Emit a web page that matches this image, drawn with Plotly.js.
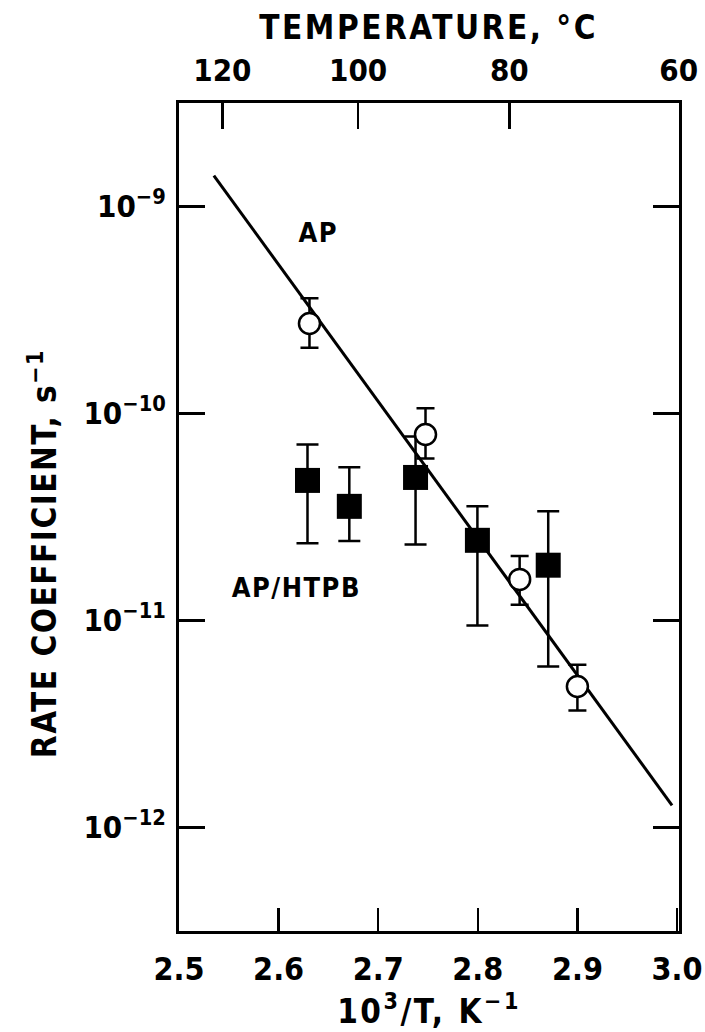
<!DOCTYPE html>
<html>
<head>
<meta charset="utf-8">
<script src="https://cdn.plot.ly/plotly-3.0.1.min.js"></script>
<style>
  html, body { margin: 0; padding: 0; background: #fff; }
  #chart { width: 705px; height: 1032px; }
  #chart .xtitle, #chart .gtitle { letter-spacing: 2.5px; }
  #chart .annotation-text { letter-spacing: 1.5px; }
</style>
</head>
<body>
<div id="chart"></div>
<script>
// ---- Data ----
// AP (open circles)
const apX     = [2.631, 2.7475, 2.842, 2.900];
const apY     = [2.72e-10, 7.92e-11, 1.58e-11, 4.80e-12];
const apHigh  = [3.60e-10, 1.06e-10, 2.05e-11, 6.12e-12];
const apLow   = [2.08e-10, 6.07e-11, 1.19e-11, 3.67e-12];

// AP/HTPB (filled squares)
const htX     = [2.629, 2.671, 2.7375, 2.7996, 2.8707];
const htY     = [4.75e-11, 3.56e-11, 4.91e-11, 2.44e-11, 1.85e-11];
const htHigh  = [7.08e-11, 5.50e-11, 7.74e-11, 3.56e-11, 3.37e-11];
const htLow   = [2.36e-11, 2.42e-11, 2.33e-11, 9.46e-12, 6.00e-12];

// Fitted line for AP (end points)
const fitX    = [2.535, 2.995];
const fitY    = [1.41e-9, 1.28e-12];

// Tick labels
const xTickVals   = [2.5, 2.6, 2.7, 2.8, 2.9, 3.0];
const xTickText   = ['2.5', '2.6', '2.7', '2.8', '2.9', '3.0'];
const yTickVals   = [1e-12, 1e-11, 1e-10, 1e-9];
const yTickText   = ['10<sup>−12</sup>', '10<sup>−11</sup>', '10<sup>−10</sup>', '10<sup>−9</sup>'];
const tempC       = [120, 100, 80, 60];
const tempText    = ['120', '100', '80', '60'];

// ---- Derived library inputs ----
const tempPos = tempC.map(t => 1000 / (t + 273.15));
const errPlus  = (y, hi) => y.map((v, i) => hi[i] - v);
const errMinus = (y, lo) => y.map((v, i) => v - lo[i]);

const FONT = 'DejaVu Sans Condensed, DejaVu Sans, sans-serif';
const XR = [2.5, 3.002];

const traces = [
  {
    x: fitX, y: fitY, type: 'scatter', mode: 'lines',
    line: { color: '#000', width: 3 }, hoverinfo: 'skip', showlegend: false
  },
  {
    x: htX, y: htY, type: 'scatter', mode: 'markers', name: 'AP/HTPB',
    marker: { symbol: 'square', size: 25, color: '#000', line: { color: '#000', width: 0 } },
    error_y: { type: 'data', symmetric: false, array: errPlus(htY, htHigh), arrayminus: errMinus(htY, htLow),
               color: '#000', thickness: 2.5, width: 11 },
    showlegend: false
  },
  {
    x: apX, y: apY, type: 'scatter', mode: 'markers', name: 'AP',
    marker: { symbol: 'circle', size: 21, color: '#fff', line: { color: '#000', width: 2.5 } },
    error_y: { type: 'data', symmetric: false, array: errPlus(apY, apHigh), arrayminus: errMinus(apY, apLow),
               color: '#000', thickness: 2.5, width: 9 },
    showlegend: false
  },
  // invisible trace to activate top axis
  {
    x: XR, y: [1e-12, 1e-12], xaxis: 'x2', yaxis: 'y', type: 'scatter', mode: 'markers',
    marker: { opacity: 0 }, hoverinfo: 'skip', showlegend: false
  }
];

const layout = {
  width: 705, height: 1032,
  margin: { l: 179, r: 26, t: 103, b: 101 },
  paper_bgcolor: '#fff', plot_bgcolor: '#fff',
  showlegend: false,
  font: { family: FONT, color: '#000', size: 26, weight: 'bold' },
  title: {
    text: 'TEMPERATURE, °C', xref: 'container', yref: 'container',
    x: 0.608, xanchor: 'center', y: 0.9735, yanchor: 'middle',
    font: { family: FONT, size: 33, weight: 'bold' }
  },
  xaxis: {
    range: XR, tickvals: xTickVals, ticktext: xTickText,
    ticks: 'inside', ticklen: 23, tickwidth: 2.5, tickcolor: '#000',
    showline: true, linewidth: 3, linecolor: '#000', mirror: true,
    showgrid: false, zeroline: false, ticklabelstandoff: 8,
    tickfont: { family: FONT, size: 32, weight: 'bold' },
    title: { text: '10<sup>3</sup>/T, K<sup>−1</sup>', font: { family: FONT, size: 33, weight: 'bold' }, standoff: 10 }
  },
  xaxis2: {
    overlaying: 'x', side: 'top', range: XR,
    tickvals: tempPos, ticktext: tempText,
    ticks: 'inside', ticklen: 26, tickwidth: 2.5, tickcolor: '#000',
    showline: false, showgrid: false, zeroline: false, ticklabelstandoff: 15,
    tickfont: { family: FONT, size: 31, weight: 'bold' }
  },
  yaxis: {
    type: 'log', range: [-12.5, -8.5],
    tickvals: yTickVals, ticktext: yTickText,
    ticks: 'inside', ticklen: 26, tickwidth: 2.5, tickcolor: '#000',
    showline: true, linewidth: 3, linecolor: '#000', mirror: 'ticks',
    showgrid: false, zeroline: false, ticklabelstandoff: 4,
    tickfont: { family: FONT, size: 31, weight: 'bold' }
  },
  annotations: [
    { x: 2.640, y: Math.log10(7.5e-10), xref: 'x', yref: 'y', text: 'AP', showarrow: false,
      font: { family: FONT, size: 27, weight: 'bold' } },
    { x: 2.618, y: Math.log10(1.44e-11), xref: 'x', yref: 'y', text: 'AP/HTPB', showarrow: false,
      font: { family: FONT, size: 27, weight: 'bold' } },
    { x: -0.272, y: 0.456, xref: 'paper', yref: 'paper', xanchor: 'center', yanchor: 'middle',
      text: 'RATE COEFFICIENT, s<sup>−1</sup>', textangle: -90, showarrow: false,
      font: { family: FONT, size: 33, weight: 'bold' } }
  ]
};

Plotly.newPlot('chart', traces, layout, { staticPlot: true, displayModeBar: false });
</script>
</body>
</html>
